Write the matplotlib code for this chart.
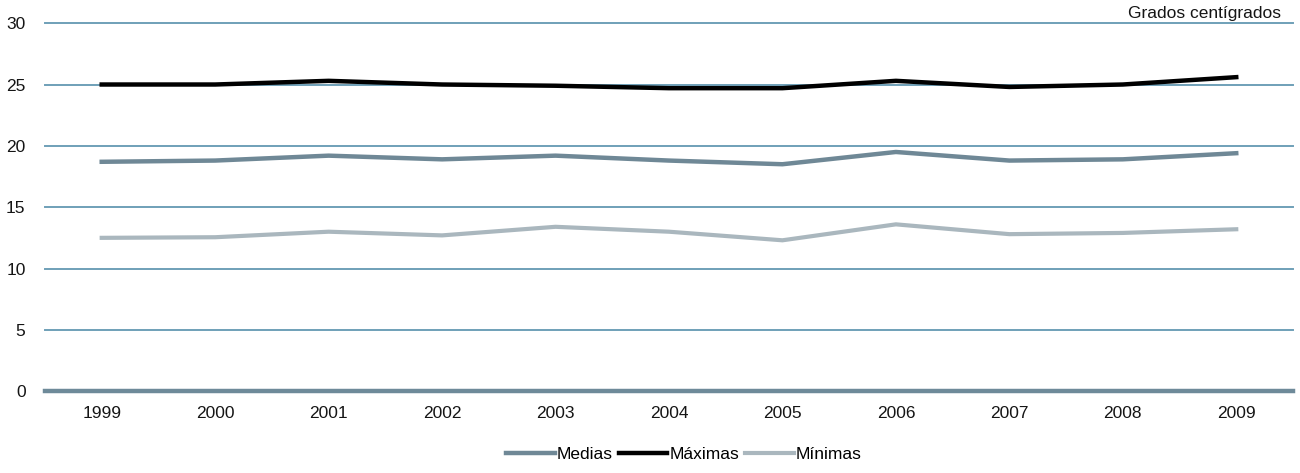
import numpy as np
import matplotlib.pyplot as plt

years = ["1999", "2000", "2001", "2002", "2003", "2004", "2005", "2006", "2007", "2008", "2009"]
medias = [18.7, 18.8, 19.2, 18.9, 19.2, 18.8, 18.5, 19.5, 18.8, 18.9, 19.4]
maximas = [25.0, 25.0, 25.3, 25.0, 24.9, 24.7, 24.7, 25.3, 24.8, 25.0, 25.6]
minimas = [12.5, 12.55, 13.0, 12.7, 13.4, 13.0, 12.3, 13.6, 12.8, 12.9, 13.2]

plt.rcParams['font.family'] = ['Liberation Sans', 'DejaVu Sans']

fig = plt.figure(figsize=(13, 4.73), dpi=100)
ax = fig.add_axes([0.0346, 0.173, 0.96, 0.778])

x = np.arange(len(years))
for yv in [5, 10, 15, 20, 25, 30]:
    ax.axhline(yv, color="#6fa0b8", lw=1.4, zorder=1, clip_on=False)
ax.axhline(0, color="#6e8a99", lw=3.2, zorder=1, clip_on=False)

ax.plot(x, medias, color="#6f8896", lw=3.2, label="Medias", zorder=3)
ax.plot(x, maximas, color="#000000", lw=3.2, label="Máximas", zorder=3)
ax.plot(x, minimas, color="#aab7be", lw=3, label="Mínimas", zorder=3)

ax.set_xlim(-0.5, len(years) - 0.5)
ax.set_ylim(0, 30)
ax.set_yticks([0, 5, 10, 15, 20, 25, 30])
ax.set_xticks(x)
ax.set_xticklabels(years)
ax.tick_params(axis="both", length=0, labelsize=12.5, colors="#151515")
ax.tick_params(axis="y", pad=14)
ax.tick_params(axis="x", pad=11)
for s in ax.spines.values():
    s.set_visible(False)

ax.text(0.99, 1.005, "Grados centígrados", transform=ax.transAxes, ha="right",
        va="bottom", fontsize=12.5, color="#151515")

fig.legend(loc="lower center", bbox_to_anchor=(0.526, -0.01), ncol=3, frameon=False,
           fontsize=12.5, handlelength=2.8, handletextpad=0.1, columnspacing=0.35)

fig.savefig("out.png", dpi=100, facecolor="white")
